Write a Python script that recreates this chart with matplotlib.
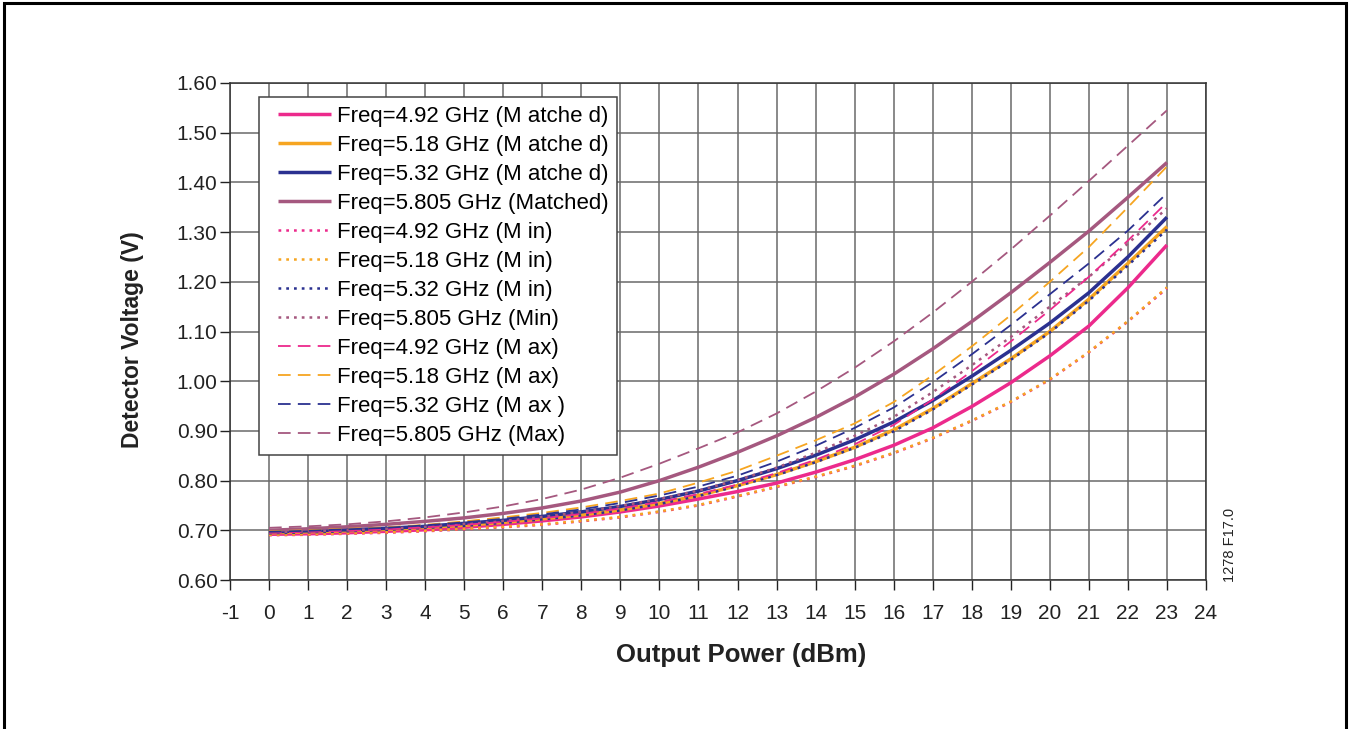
import matplotlib
matplotlib.use("Agg")
import matplotlib.pyplot as plt
from matplotlib.patches import Rectangle
from matplotlib.legend_handler import HandlerLine2D
from matplotlib.lines import Line2D

plt.rcParams['font.family'] = ['Liberation Sans', 'DejaVu Sans']
plt.rcParams['axes.unicode_minus'] = False

# output power (dBm)
guc = list(range(0, 24))

# detector voltage (V)
m492 = [0.692, 0.693, 0.695, 0.698, 0.701, 0.706, 0.712, 0.719, 0.727, 0.737, 0.749, 0.763,
        0.778, 0.795, 0.817, 0.842, 0.871, 0.906, 0.949, 0.997, 1.051, 1.111, 1.188, 1.274]
m518 = [0.695, 0.697, 0.699, 0.702, 0.706, 0.710, 0.716, 0.723, 0.731, 0.741, 0.754, 0.770,
        0.790, 0.812, 0.838, 0.867, 0.902, 0.945, 0.995, 1.045, 1.100, 1.165, 1.237, 1.311]
m532 = [0.697, 0.699, 0.701, 0.704, 0.708, 0.714, 0.720, 0.728, 0.737, 0.748, 0.762, 0.779,
        0.800, 0.824, 0.851, 0.882, 0.918, 0.961, 1.010, 1.062, 1.117, 1.178, 1.250, 1.330]
m5805 = [0.700, 0.703, 0.707, 0.712, 0.718, 0.725, 0.734, 0.745, 0.759, 0.777, 0.800, 0.827,
         0.857, 0.890, 0.927, 0.968, 1.014, 1.065, 1.120, 1.178, 1.239, 1.302, 1.370, 1.440]

min492 = [0.690, 0.691, 0.693, 0.695, 0.698, 0.702, 0.706, 0.711, 0.718, 0.726, 0.737, 0.750,
          0.768, 0.787, 0.807, 0.829, 0.855, 0.885, 0.920, 0.958, 1.003, 1.058, 1.120, 1.187]
min518 = [0.691, 0.692, 0.694, 0.696, 0.699, 0.703, 0.707, 0.712, 0.719, 0.727, 0.738, 0.751,
          0.769, 0.788, 0.808, 0.830, 0.856, 0.886, 0.921, 0.959, 1.004, 1.059, 1.121, 1.189]
min532 = [0.694, 0.696, 0.698, 0.701, 0.705, 0.709, 0.715, 0.722, 0.730, 0.740, 0.753, 0.769,
          0.789, 0.811, 0.837, 0.866, 0.899, 0.943, 0.993, 1.043, 1.098, 1.162, 1.233, 1.305]
min5805 = [0.696, 0.698, 0.700, 0.703, 0.707, 0.713, 0.719, 0.727, 0.737, 0.749, 0.763, 0.780,
           0.801, 0.826, 0.856, 0.890, 0.928, 0.978, 1.032, 1.089, 1.150, 1.210, 1.277, 1.348]

max492 = [0.695, 0.697, 0.699, 0.702, 0.706, 0.711, 0.717, 0.724, 0.733, 0.744, 0.757, 0.773,
          0.792, 0.815, 0.842, 0.873, 0.912, 0.963, 1.020, 1.080, 1.143, 1.210, 1.283, 1.360]
max518 = [0.698, 0.700, 0.703, 0.706, 0.711, 0.718, 0.726, 0.735, 0.746, 0.759, 0.774, 0.796,
          0.820, 0.850, 0.881, 0.915, 0.958, 1.012, 1.070, 1.133, 1.200, 1.270, 1.350, 1.432]
max532 = [0.697, 0.699, 0.702, 0.705, 0.710, 0.716, 0.723, 0.732, 0.742, 0.755, 0.770, 0.788,
          0.810, 0.838, 0.870, 0.906, 0.947, 0.998, 1.054, 1.113, 1.175, 1.237, 1.303, 1.378]
max5805 = [0.705, 0.708, 0.712, 0.718, 0.726, 0.736, 0.748, 0.763, 0.782, 0.806, 0.834, 0.865,
           0.897, 0.935, 0.979, 1.027, 1.080, 1.138, 1.200, 1.265, 1.333, 1.403, 1.474, 1.545]

etiketler = ["Freq=4.92 GHz (M atche d)", "Freq=5.18 GHz (M atche d)",
             "Freq=5.32 GHz (M atche d)", "Freq=5.805 GHz (Matched)",
             "Freq=4.92 GHz (M in)", "Freq=5.18 GHz (M in)",
             "Freq=5.32 GHz (M in)", "Freq=5.805 GHz (Min)",
             "Freq=4.92 GHz (M ax)", "Freq=5.18 GHz (M ax)",
             "Freq=5.32 GHz (M ax )", "Freq=5.805 GHz (Max)"]

renkler = ["#ec2a8c", "#f6a521", "#2b3190", "#a5587f"]

fig = plt.figure(figsize=(13.5, 7.29), dpi=100)
ax = fig.add_axes([230 / 1350, 1 - 580 / 729, 976 / 1350, 497 / 729])

seriler = [m492, m518, m532, m5805, min492, min518, min532, min5805,
           max492, max518, max532, max5805]
for i, (y, etiket) in enumerate(zip(seriler, etiketler)):
    renk = renkler[i % 4]
    if i < 4:
        ax.plot(guc, y, color=renk, lw=2.5, label=etiket, solid_capstyle="butt")
    elif i < 8:
        ax.plot(guc, y, color=renk, lw=1.8, linestyle=(0, (1.1, 2.0)), label=etiket)
    else:
        ax.plot(guc, y, color=renk, lw=1.3, linestyle=(0, (7, 4)), label=etiket)

ax.set_xlim(-1, 24)
ax.set_ylim(0.6, 1.6)
ax.set_xticks(range(-1, 25))
ax.set_yticks([0.6 + 0.1 * k for k in range(11)])
ax.set_yticklabels(["%.2f" % (0.6 + 0.1 * k) for k in range(11)])
ax.grid(True, color="#6a6a6a", lw=1.1)
ax.set_axisbelow(True)
for s in ax.spines.values():
    s.set_color("#333333")
    s.set_linewidth(1.1)
ax.tick_params(axis="both", direction="out", length=7, width=1, colors="#222222",
               labelsize=15)
ax.tick_params(axis="y", pad=2)
ax.tick_params(axis="x", pad=10)

ax.set_xlabel("Output Power (dBm)", fontsize=18.5, fontweight="bold", color="#222222")
ax.set_ylabel("Detector Voltage (V)", fontsize=16.5, fontweight="bold", color="#222222")
ax.xaxis.set_label_coords(0.5236, -0.127)
ax.yaxis.set_label_coords(-0.088, 0.483)

# legend handles inset so the text sits where it does in the original
kisa = HandlerLine2D(marker_pad=0.45, numpoints=2)
leg = ax.legend(loc="upper left", bbox_to_anchor=(0.0297, 0.972), fontsize=16,
                frameon=True, fancybox=False, handlelength=3.3, handletextpad=-0.2,
                labelspacing=0.36, borderpad=0.4, borderaxespad=0,
                handler_map={Line2D: kisa})
leg.get_frame().set_edgecolor("#444444")
leg.get_frame().set_linewidth(1.1)
leg.get_frame().set_alpha(1)

fig.text(1230 / 1350, 1 - 545 / 729, "1278 F17.0", rotation=90, fontsize=10.5,
         ha="center", va="center", color="#222222")

fig.patches.append(Rectangle((0.003, -0.02), 0.994, 1.016, transform=fig.transFigure,
                             fill=False, edgecolor="black", lw=2.2))

fig.savefig("out.png", dpi=100, facecolor="white")
